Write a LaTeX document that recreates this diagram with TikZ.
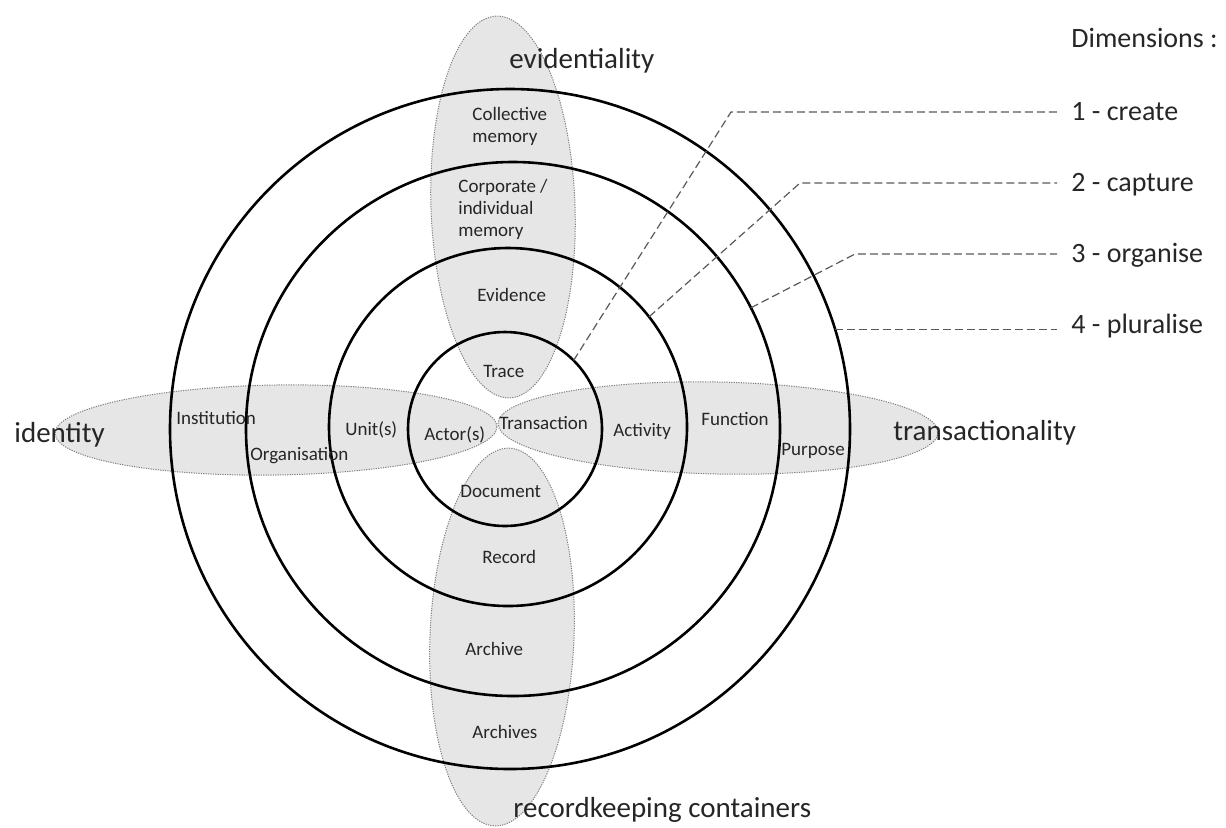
\documentclass[tikz,border=0pt]{standalone}
\usepackage{fontspec}
\setmainfont{Carlito}
\definecolor{lobefill}{HTML}{E7E6E6}
\definecolor{lobeedge}{HTML}{7F7F7F}
\definecolor{txt}{HTML}{262626}
\definecolor{dashc}{HTML}{595959}
\begin{document}
\begin{tikzpicture}[x=0.5pt,y=-0.5pt,
  ring/.style={circle, draw=black, line width=1.3pt, inner sep=0pt, outer sep=0pt, minimum size=#1},
  lobe/.style={fill=lobefill, draw=lobeedge, line width=0.5pt, dash pattern=on 0.6pt off 0.6pt},
  small/.style={font=\fontsize{9.5}{11}\selectfont, text=txt, inner sep=0pt, anchor=base west},
  big/.style={font=\fontsize{14.5}{17}\selectfont, text=txt, inner sep=0pt, anchor=base west},
  dim/.style={font=\fontsize{14}{17}\selectfont, text=txt, inner ysep=0pt, inner xsep=7pt, anchor=base west},
  leader/.style={draw=dashc, line width=0.6pt, dash pattern=on 4pt off 2pt}
]
\useasboundingbox (0,0) rectangle (1226,827);

% lobes
\draw[lobe, rotate around={2:(503,207)}] (503,207) ellipse [x radius=72, y radius=191];
\draw[lobe, rotate around={-2.3:(502,637)}] (502,637) ellipse [x radius=72, y radius=189];
\draw[lobe, rotate around={0.9:(276,430)}] (276,430) ellipse [x radius=221, y radius=45];
\draw[lobe, rotate around={-1.2:(718,428)}] (718,428) ellipse [x radius=220, y radius=46];

% rings
\node[ring=340pt] (c1) at (510,429) {};
\node[ring=267pt] (c2) at (513,429) {};
\node[ring=179pt] (c3) at (508,427) {};
\node[ring=97pt]  (c4) at (505,429) {};

% axis labels
\node[big] (lev) at (509,68) {evidentiality};
\node[big] (lid) at (14,442) {identity};
\node[big] (ltr) at (893,440) {transactionality};
\node[big] (lrc) at (513,817) {recordkeeping containers};

% dimension labels
\node[dim] (dh) at (1057,47) {Dimensions :};
\node[dim] (d1) at (1057,120) {1 - create};
\node[dim] (d2) at (1057,191) {2 - capture};
\node[dim] (d3) at (1057,262) {3 - organise};
\node[dim] (d4) at (1057,333) {4 - pluralise};

% small labels
\node[small, align=left] (s1) at (472,142) {Collective\\memory};
\node[small, align=left] (s2) at (458,236) {Corporate /\\individual\\memory};
\node[small] (s3) at (477,301) {Evidence};
\node[small] (s4) at (483,377) {Trace};
\node[small] (s5) at (499,429) {Transaction};
\node[small] (s6) at (424,440) {Actor(s)};
\node[small] (s7) at (613,436) {Activity};
\node[small] (s8) at (701,425) {Function};
\node[small] (s9) at (781,455) {Purpose};
\node[small] (s10) at (176,424) {Institution};
\node[small] (s11) at (250,460) {Organisation};
\node[small] (s12) at (345,435) {Unit(s)};
\node[small] (s13) at (460,497) {Document};
\node[small] (s14) at (482,563) {Record};
\node[small] (s15) at (465,655) {Archive};
\node[small] (s16) at (472,738) {Archives};

% leaders
\coordinate (b1) at (731,112);
\coordinate (b2) at (800,183);
\coordinate (b3) at (855,254);
\draw[leader] (c4.45) -- (b1) -- (b1 -| d1.west);
\draw[leader] (c3.38) -- (b2) -- (b2 -| d2.west);
\draw[leader] (c2.27) -- (b3) -- (b3 -| d3.west);
\draw[leader] (c1.17.5) -- (c1.17.5 -| d4.west);
\end{tikzpicture}
\end{document}
